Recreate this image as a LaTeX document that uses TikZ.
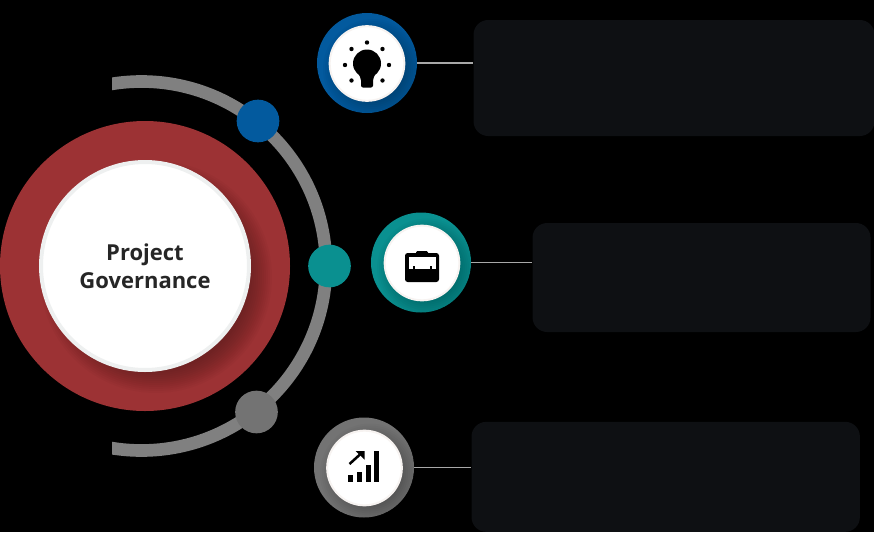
\documentclass[tikz,border=0pt]{standalone}
\usepackage{xcolor}
\usepackage{fontspec}
\setmainfont{Open Sans}
\usepackage{tikz}
\usetikzlibrary{positioning, calc}

\definecolor{govred}{HTML}{9C3234}
\definecolor{govblue}{HTML}{035A9E}
\definecolor{govteal}{HTML}{0A9090}
\definecolor{govgray}{HTML}{737373}
\definecolor{arcgray}{HTML}{808080}
\definecolor{panelgray}{HTML}{0E1013}
\definecolor{rimgray}{HTML}{EEF0F0}
\definecolor{rimpale}{HTML}{F7F3F1}
\definecolor{linkgray}{HTML}{A8A8A8}

\tikzset{
    hubring/.style={circle, fill=govred, inner sep=0pt, minimum size=217.5pt},
    hubface/.style={circle, draw=rimgray, line width=3pt, fill=white, inner sep=0pt, minimum size=156pt, align=center, text=black!85, font=\bfseries\fontsize{16.5}{21}\selectfont},
    orbitdot/.style={circle, inner sep=0pt, minimum size=32pt},
    iconring/.style={circle, inner sep=0pt, minimum size=75pt},
    iconface/.style={circle, draw=rimpale, line width=1.5pt, fill=white, inner sep=0pt, minimum size=56pt},
    panel/.style={rectangle, fill=panelgray, rounded corners=11pt, inner sep=0pt},
    link/.style={draw=linkgray, line width=1.4pt}
}

% soft shadow thrown to the lower right, kept inside a disc: node, its radius, offset, radius of the first layer
\newcommand{\softshadow}[4]{%
    \begin{scope}
        \path[clip] (#1) circle (#2);
        \foreach \grow in {0,2,...,22}
            \fill[black, opacity=0.024] ($(#1)+(#3)$) circle (#4+\grow);
    \end{scope}
}

\begin{document}
\begin{tikzpicture}[x=0.75pt, y=-0.75pt]
    \useasboundingbox[fill=black] (0,0) rectangle (874,532);

    % orbit behind the hub
    \coordinate (OrbitCentre) at (141.5,266);
    \begin{scope}
        \clip (112,0) rectangle (874,532);
        \draw[arcgray, line width=9.5pt] (OrbitCentre) circle (184.5);
    \end{scope}

    % hub
    \node (HubRing) [hubring] at (145,266) {};
    \softshadow{HubRing}{145}{11,11}{94}
    \node (HubFace) [hubface] at (145,266) {Project\\Governance};

    % dots on the orbit
    \node (BlueDot) [orbitdot, fill=govblue] at (258,121) {};
    \node (TealDot) [orbitdot, fill=govteal] at (329.5,266) {};
    \node (GrayDot) [orbitdot, fill=govgray] at (256.5,412) {};

    % icon rings
    \node (IdeaRing) [iconring, fill=govblue] at (367,63) {};
    \node (CaseRing) [iconring, fill=govteal] at (421,262.5) {};
    \node (ChartRing) [iconring, fill=govgray] at (364,467.5) {};
    \softshadow{IdeaRing}{50}{6,6}{28}
    \softshadow{CaseRing}{50}{6,6}{28}
    \softshadow{ChartRing}{50}{6,6}{28}
    \node (IdeaFace) [iconface] at (367,63.5) {};
    \node (CaseFace) [iconface] at (422,263) {};
    \node (ChartFace) [iconface] at (364.5,468) {};

    % text panels
    \node (IdeaPanel) [panel, minimum width=300.75pt, minimum height=87pt, right=42pt of IdeaRing, yshift=-11.25pt] {};
    \node (CasePanel) [panel, minimum width=253.5pt, minimum height=81.75pt, right=45.75pt of CaseRing, yshift=-11.25pt] {};
    \node (ChartPanel) [panel, minimum width=291.25pt, minimum height=82.5pt, right=42.75pt of ChartRing, yshift=-7pt] {};

    \draw[link] (IdeaRing.east) -- (IdeaRing.east -| IdeaPanel.west);
    \draw[link] (CaseRing.east) -- (CaseRing.east -| CasePanel.west);
    \draw[link] (ChartRing.east) -- (ChartRing.east -| ChartPanel.west);

    % bulb
    \begin{scope}[shift={(IdeaFace)}]
        \fill[black] (0,0) circle (14);
        \fill[black, rounded corners=1.5pt] (-10,8) -- (-6,15) -- (-6,24) -- (6,24) -- (6,15) -- (10,8) -- cycle;
        \foreach \spot in {(0,-21),(-15.5,-14.5),(15.5,-14.5),(-22,1.5),(22,1.5),(-15.5,17),(15.5,17)}
            \fill[black] \spot circle (2.2);
    \end{scope}

    % briefcase
    \begin{scope}[shift={(CaseFace)}]
        \fill[black, rounded corners=2pt] (-17,-10) rectangle (17,19);
        \fill[black, rounded corners=1pt] (-6,-12) rectangle (6,-8);
        \fill[white] (-13,-6) rectangle (13.5,6);
        \fill[black] (-9.5,2.5) rectangle (-7.5,6);
        \fill[black] (7.5,2.5) rectangle (9.5,6);
    \end{scope}

    % chart
    \begin{scope}[shift={(ChartFace)}]
        \fill[black] (-16.5,7) rectangle (-11.5,14);
        \fill[black] (-7.5,4) rectangle (-2.5,14);
        \fill[black] (1,-3) rectangle (6,14);
        \fill[black] (9.5,-17) rectangle (14.5,14);
        \draw[black, line width=1.9pt] (-15,-4) -- (-4,-14);
        \fill[black] (-9,-17) -- (0,-17) -- (0,-8.5) -- cycle;
    \end{scope}
\end{tikzpicture}
\end{document}
